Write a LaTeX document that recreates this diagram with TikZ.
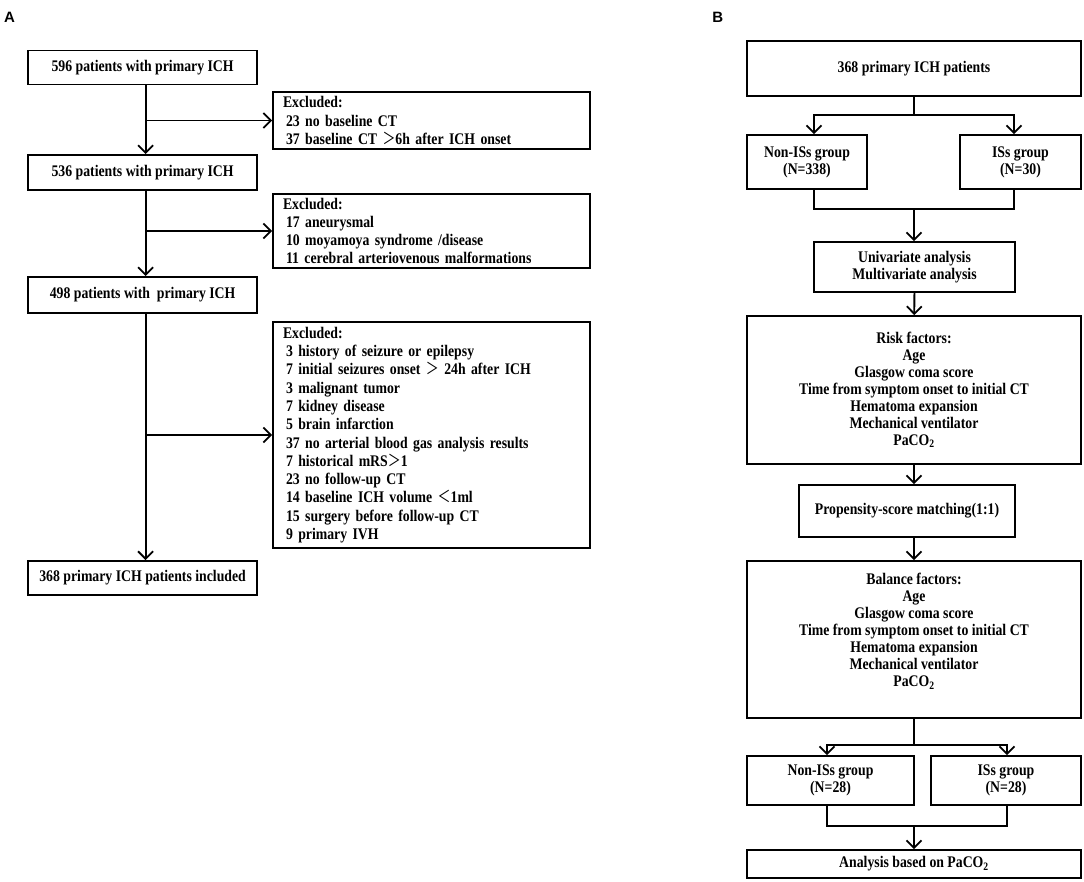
\documentclass[tikz,border=0pt]{standalone}
\usepackage{fontspec}
\setmainfont{Liberation Serif}[FakeStretch=0.85]
\newfontfamily\panelfont{Liberation Sans}
\newfontfamily\cjk{Noto Sans CJK SC}[FakeStretch=0.8]
\usetikzlibrary{arrows.meta}

\newcommand{\gtsym}{{\cjk\mdseries ＞}}
\newcommand{\ltsym}{{\cjk\mdseries ＜}}

\begin{document}
\begin{tikzpicture}[x=1pt, y=-1pt,
    every node/.style={font=\bfseries\fontsize{16.2}{18.5}\selectfont},
    box/.style={draw, line width=1.8pt, inner sep=0pt, minimum width=229pt, minimum height=34pt, align=center},
    exbox/.style={draw, line width=1.8pt, inner xsep=10pt, inner ysep=0pt, text width=297pt, align=left,
        font=\bfseries\fontsize{16.2}{18.3}\selectfont},
    btxt/.style={align=center, inner sep=0pt, font=\bfseries\fontsize{16.2}{17}\selectfont},
    bbox/.style={btxt, draw, line width=1.8pt},
    panel/.style={inner sep=0pt, font=\panelfont\bfseries\fontsize{15}{16}\selectfont},
    line/.style={line width=1.8pt},
    arr/.style={line width=1.8pt, -{Straight Barb[length=7.5pt,width=15pt]}}]

\useasboundingbox (0,0) rectangle (1084,882);

% panel A
\node[panel] (labA) at (9.5,17.5) {A};

\node[box] (p596) at (142.6,67.5) {596 patients with primary ICH};
\node[box, minimum height=35pt] (p536) at (142.6,172.5) {536 patients with primary ICH};
\node[box, minimum height=36pt] (p498) at (142.6,295) {498 patients with\ \ primary ICH};
\node[box] (p368) at (142.6,578) {368 primary ICH patients included};

\node[exbox, minimum height=57pt] (ex1) at (431.5,120.5) {Excluded:\\
    \hspace*{3pt}23 no baseline CT\\
    \hspace*{3pt}37 baseline CT \gtsym6h after ICH onset};
\node[exbox, minimum height=74pt] (ex2) at (431.5,231) {Excluded:\\
    \hspace*{3pt}17 aneurysmal\\
    \hspace*{3pt}10 moyamoya syndrome /disease\\
    \hspace*{3pt}11 cerebral arteriovenous malformations};
\node[exbox, minimum height=226pt] (ex3) at (431.5,435) {Excluded:\\
    \hspace*{3pt}3 history of seizure or epilepsy\\
    \hspace*{3pt}7 initial seizures onset \gtsym\ 24h after ICH\\
    \hspace*{3pt}3 malignant tumor\\
    \hspace*{3pt}7 kidney disease\\
    \hspace*{3pt}5 brain infarction\\
    \hspace*{3pt}37 no arterial blood gas analysis results\\
    \hspace*{3pt}7 historical mRS\gtsym1\\
    \hspace*{3pt}23 no follow-up CT\\
    \hspace*{3pt}14 baseline ICH volume \ltsym1ml\\
    \hspace*{3pt}15 surgery before follow-up CT\\
    \hspace*{3pt}9 primary IVH};

\draw[arr] ([xshift=3pt]p596.south) -- ([xshift=3pt]p536.north);
\draw[arr] ([xshift=3pt]p536.south) -- ([xshift=3pt]p498.north);
\draw[arr] ([xshift=3pt]p498.south) -- ([xshift=3pt]p368.north);
\draw[arr] ([xshift=3pt]p596.south |- ex1) -- (ex1);
\draw[arr] ([xshift=3pt]p536.south |- ex2) -- (ex2);
\draw[arr] ([xshift=3pt]p498.south |- ex3) -- (ex3);

% panel B
\node[panel] (labB) at (717.8,17.5) {B};

\node[bbox, minimum width=334pt, minimum height=55pt] (top) at (914,68.5) {368 primary ICH patients};
\node[bbox, minimum width=120pt, minimum height=54pt] (non1) at (807,162) {Non-ISs group\\(N=338)};
\node[bbox, minimum width=121pt, minimum height=54pt] (iss1) at (1020.5,162) {ISs group\\(N=30)};
\node[bbox, minimum width=201pt, minimum height=50pt] (uni) at (914.5,267) {Univariate analysis\\Multivariate analysis};
\node[bbox, minimum width=334pt, minimum height=148pt] (risk) at (914,390) {Risk factors:\\Age\\Glasgow coma score\\
    Time from symptom onset to initial CT\\Hematoma expansion\\Mechanical ventilator\\PaCO\textsubscript{2}};
\node[bbox, minimum width=216pt, minimum height=52pt] (psm) at (907,511) {Propensity-score matching(1:1)};
\node[bbox, minimum width=334pt, minimum height=157pt] (bal) at (914,639.5) {};
\node[btxt] (baltxt) at ([yshift=8.5pt]bal.center) {Balance factors:\\Age\\Glasgow coma score\\
    Time from symptom onset to initial CT\\Hematoma expansion\\Mechanical ventilator\\PaCO\textsubscript{2}};
\node[bbox, minimum width=167pt, minimum height=49pt] (non2) at (830.5,780.5) {Non-ISs group\\(N=28)};
\node[bbox, minimum width=150pt, minimum height=49pt] (iss2) at (1006,780.5) {ISs group\\(N=28)};
\node[bbox, minimum width=334pt, minimum height=28pt] (ana) at (914,864) {Analysis based on PaCO\textsubscript{2}};

\coordinate (s1l) at (814,115);
\coordinate (s1r) at (1014,115);
\coordinate (m1l) at (814,209);
\coordinate (m1r) at (1014,209);
\coordinate (s2l) at (827,745);
\coordinate (s2r) at (1007,745);
\coordinate (m2l) at (827,826);
\coordinate (m2r) at (1007,826);

\draw[line] (top) -- (top |- s1l);
\draw[arr] (s1r) -- (s1l) -- (s1l |- non1.north);
\draw[arr] (s1l) -- (s1r) -- (s1r |- iss1.north);
\draw[line] (s1l |- non1.south) -- (m1l) -- (m1r) -- (s1r |- iss1.south);
\draw[arr] (top |- m1l) -- (top |- uni.north);
\draw[arr] (uni) -- (risk);
\draw[arr] (risk.south) -- (risk.south |- psm.north);
\draw[arr] (risk.south |- psm.south) -- (bal.north);
\draw[line] (bal) -- (bal |- s2l);
\draw[arr] (s2r) -- (s2l) -- (s2l |- non2.north);
\draw[arr] (s2l) -- (s2r) -- (s2r |- iss2.north);
\draw[line] (s2l |- non2.south) -- (m2l) -- (m2r) -- (s2r |- iss2.south);
\draw[arr] (bal |- m2l) -- (ana);

\end{tikzpicture}
\end{document}
